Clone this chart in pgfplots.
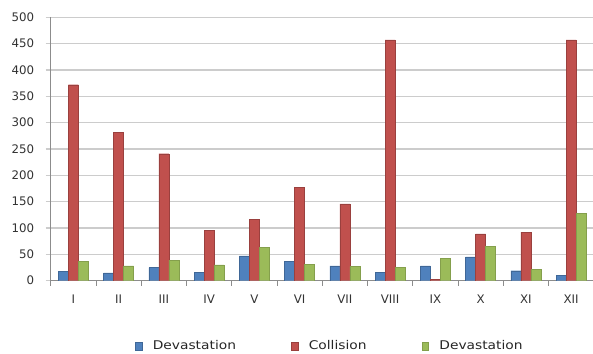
\documentclass[border=0pt]{standalone}
\usepackage{pgfplots}
\pgfplotsset{compat=1.18}
\usepackage{fontspec}
\setmainfont{DejaVu Sans}[FakeStretch=1.15]
\newfontfamily\tickfont{DejaVu Sans}
\definecolor{cblue}{HTML}{4F81BD}
\definecolor{cred}{HTML}{C0504D}
\definecolor{cgreen}{HTML}{9BBB59}
\definecolor{gridc}{HTML}{CCCCCC}
\definecolor{axc}{HTML}{8C8C8C}
\definecolor{txt}{HTML}{333333}
\begin{document}
\begin{tikzpicture}
\path[use as bounding box] (-50.7bp,-73.3bp) rectangle (542.3bp,280.7bp);
\begin{axis}[
  at={(0,0)}, anchor=south west,
  scale only axis,
  width=543bp, height=263.4bp,
  ybar=0pt, bar width=10bp,
  xmin=-0.5, xmax=11.5,
  ymin=0, ymax=500,
  ytick={0,50,...,500},
  xtick={0,...,11},
  xticklabels={I,II,III,IV,V,VI,VII,VIII,IX,X,XI,XII},
  minor xtick={-0.5,0.5,...,11.5},
  axis x line*=bottom, axis y line*=left,
  axis line style={axc, line width=0.8bp, -},
  tick align=outside,
  major tick length=5bp, minor tick length=5bp,
  x tick style={draw=none},
  minor x tick style={draw=axc, line width=0.8bp},
  y tick style={draw=gridc, line width=1.3bp},
  ymajorgrids, major grid style={gridc, line width=1.3bp},
  /pgf/number format/assume math mode=true,
  tick label style={font=\tickfont\fontsize{11.8bp}{13bp}\selectfont, text=txt},
  yticklabel style={anchor=east, xshift=-8bp},
  xticklabel style={anchor=base, yshift=-18bp},
  legend columns=3,
  legend style={draw=none, fill=none, at={(0.514,-0.248)}, anchor=center,
    font=\fontsize{12bp}{14bp}\selectfont, text=black!85,
    /tikz/every odd column/.append style={column sep=9bp},
    /tikz/every even column/.append style={column sep=53bp}},
  legend image code/.code={\fill (0bp,-4bp) rectangle (6.5bp,4bp);},
  legend cell align=left,
]
\addplot[fill=cblue, draw=cblue!80!black, line width=0.3bp] coordinates {(0,18) (1,15) (2,25) (3,16) (4,47) (5,37) (6,28) (7,16) (8,28) (9,45) (10,19) (11,10)};
\addplot[fill=cred, draw=cred!80!black, line width=0.3bp] coordinates {(0,372) (1,282) (2,241) (3,96) (4,117) (5,177) (6,146) (7,457) (8,3) (9,89) (10,92) (11,457)};
\addplot[fill=cgreen, draw=cgreen!85!black, line width=0.3bp] coordinates {(0,37) (1,28) (2,39) (3,30) (4,63) (5,31) (6,27) (7,25) (8,42) (9,65) (10,21) (11,128)};
\legend{Devastation,Collision,Devastation}
\end{axis}
\end{tikzpicture}
\end{document}
